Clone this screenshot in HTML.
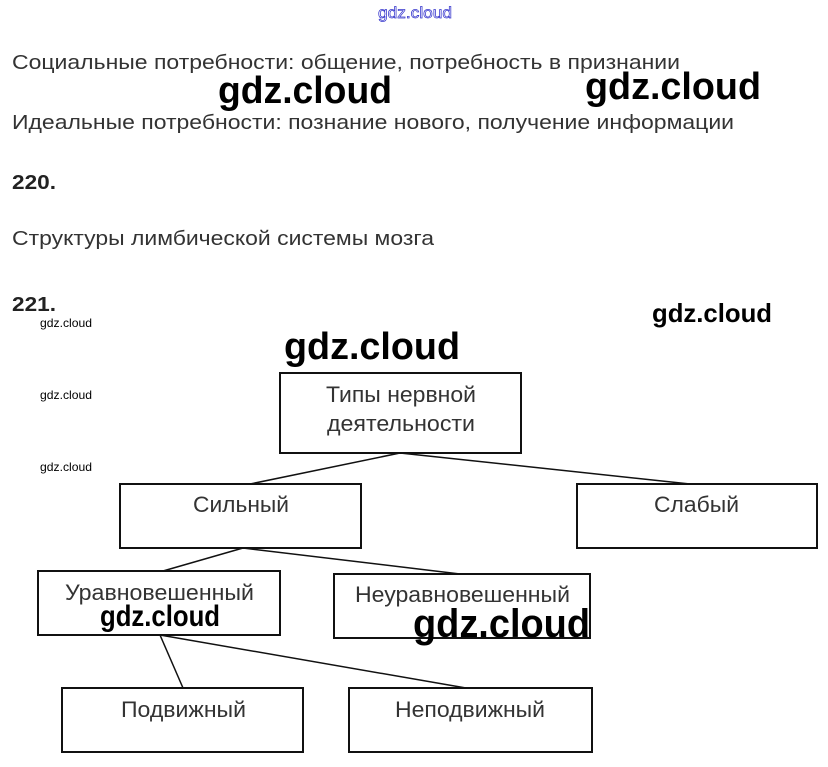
<!DOCTYPE html>
<html><head><meta charset="utf-8"><style>
html,body{margin:0;padding:0;background:#fff;}
svg{display:block;}
.t{font-family:"Liberation Sans",sans-serif;fill:#333;font-size:20px;}
.d{font-family:"Liberation Sans",sans-serif;fill:#333;font-size:22px;}
.b{font-family:"Liberation Sans",sans-serif;fill:#222;font-size:20px;font-weight:bold;}
.w{font-family:"Liberation Sans",sans-serif;fill:#000;font-weight:bold;}
.s{font-family:"Liberation Sans",sans-serif;fill:#000;font-size:12px;}
rect{fill:none;stroke:#111;stroke-width:2;}
line{stroke:#111;stroke-width:1.5;}
</style></head><body>
<svg width="828" height="767" viewBox="0 0 828 767">
<text x="378" y="18" font-family="Liberation Sans,sans-serif" font-size="16" fill="#fff" stroke="#33c" stroke-width="0.7" textLength="74" lengthAdjust="spacingAndGlyphs">gdz.cloud</text>
<text class="t" x="12" y="69" textLength="668" lengthAdjust="spacingAndGlyphs">Социальные потребности: общение, потребность в признании</text>
<text class="t" x="12" y="129" textLength="722" lengthAdjust="spacingAndGlyphs">Идеальные потребности: познание нового, получение информации</text>
<text class="w" x="218" y="103" font-size="38" textLength="174" lengthAdjust="spacingAndGlyphs">gdz.cloud</text>
<text class="w" x="585" y="99" font-size="38" textLength="176" lengthAdjust="spacingAndGlyphs">gdz.cloud</text>
<text class="b" x="12" y="189" textLength="44" lengthAdjust="spacingAndGlyphs">220.</text>
<text class="t" x="12" y="245" textLength="422" lengthAdjust="spacingAndGlyphs">Структуры лимбической системы мозга</text>
<text class="b" x="12" y="311" textLength="44" lengthAdjust="spacingAndGlyphs">221.</text>
<text class="w" x="652" y="322" font-size="26" font-weight="normal" textLength="120" lengthAdjust="spacingAndGlyphs">gdz.cloud</text>
<text class="s" x="40" y="327" textLength="52" lengthAdjust="spacingAndGlyphs">gdz.cloud</text>
<text class="s" x="40" y="399" textLength="52" lengthAdjust="spacingAndGlyphs">gdz.cloud</text>
<text class="s" x="40" y="471" textLength="52" lengthAdjust="spacingAndGlyphs">gdz.cloud</text>
<text class="w" x="284" y="359" font-size="38" textLength="176" lengthAdjust="spacingAndGlyphs">gdz.cloud</text>

<rect x="280" y="373" width="241" height="80"/>
<rect x="120" y="484" width="241" height="64"/>
<rect x="577" y="484" width="240" height="64"/>
<rect x="38" y="571" width="242" height="64"/>
<rect x="334" y="574" width="256" height="64"/>
<rect x="62" y="688" width="241" height="64"/>
<rect x="349" y="688" width="243" height="64"/>

<line x1="400" y1="453" x2="250" y2="484"/>
<line x1="400" y1="453" x2="690" y2="484"/>
<line x1="243" y1="548" x2="163" y2="571"/>
<line x1="243" y1="548" x2="460" y2="574"/>
<line x1="160" y1="635" x2="183" y2="688"/>
<line x1="160" y1="635" x2="466" y2="688"/>

<text class="d" x="326" y="402" textLength="150" lengthAdjust="spacingAndGlyphs">Типы нервной</text>
<text class="d" x="327" y="431" textLength="148" lengthAdjust="spacingAndGlyphs">деятельности</text>
<text class="d" x="193" y="512" textLength="96" lengthAdjust="spacingAndGlyphs">Сильный</text>
<text class="d" x="654" y="512" textLength="85" lengthAdjust="spacingAndGlyphs">Слабый</text>
<text class="d" x="65" y="600" textLength="189" lengthAdjust="spacingAndGlyphs">Уравновешенный</text>
<text class="d" x="355" y="602" textLength="215" lengthAdjust="spacingAndGlyphs">Неуравновешенный</text>
<text class="d" x="121" y="717" textLength="125" lengthAdjust="spacingAndGlyphs">Подвижный</text>
<text class="d" x="395" y="717" textLength="150" lengthAdjust="spacingAndGlyphs">Неподвижный</text>
<text class="w" x="100" y="626" font-size="30" textLength="120" lengthAdjust="spacingAndGlyphs">gdz.cloud</text>
<text class="w" x="413" y="637" font-size="40" textLength="177" lengthAdjust="spacingAndGlyphs">gdz.cloud</text>
</svg>
</body></html>
